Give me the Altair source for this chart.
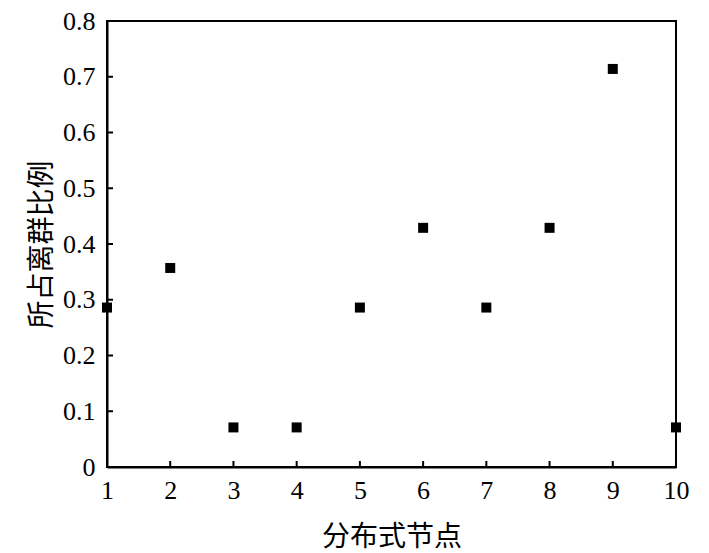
import altair as alt
import pandas as pd

nodes = [1, 2, 3, 4, 5, 6, 7, 8, 9, 10]
ratios = [0.286, 0.357, 0.071, 0.071, 0.286, 0.429, 0.286, 0.429, 0.714, 0.071]
x_ticks = [1, 2, 3, 4, 5, 6, 7, 8, 9, 10]
y_ticks = [0, 0.1, 0.2, 0.3, 0.4, 0.5, 0.6, 0.7, 0.8]
x_inner_ticks = [2, 3, 4, 5, 6, 7, 8, 9]
y_inner_ticks = [0.1, 0.2, 0.3, 0.4, 0.5, 0.6, 0.7]

W, H = 569, 446
FONT = "Liberation Serif, Times New Roman, Noto Sans CJK SC"

df = pd.DataFrame({"node": nodes, "ratio": ratios})
xt = pd.DataFrame({"v": x_inner_ticks})
yt = pd.DataFrame({"v": y_inner_ticks})

xscale = alt.Scale(domain=[1, 10], nice=False, zero=False)
yscale = alt.Scale(domain=[0, 0.8], nice=False)

points = alt.Chart(df).mark_square(size=100, color="black", opacity=1, clip=False).encode(
    x=alt.X("node:Q", scale=xscale,
            axis=alt.Axis(title="分布式节点", values=x_ticks, format="d", ticks=False,
                          labelPadding=10, titlePadding=20, grid=False)),
    y=alt.Y("ratio:Q", scale=yscale,
            axis=alt.Axis(title="所占离群比例", values=y_ticks, ticks=False,
                          labelExpr="datum.value == 0 ? '0' : format(datum.value, '.1f')",
                          labelPadding=12, titlePadding=6, grid=False)),
)

xtick_rules = alt.Chart(xt).mark_rule(color="black", strokeWidth=2).encode(
    x=alt.X("v:Q", scale=xscale),
    y=alt.value(H),
    y2=alt.value(H - 6),
)

ytick_rules = alt.Chart(yt).mark_rule(color="black", strokeWidth=2).encode(
    y=alt.Y("v:Q", scale=yscale),
    x=alt.value(0),
    x2=alt.value(6),
)

chart = alt.layer(points, xtick_rules, ytick_rules).properties(
    width=W, height=H,
    autosize=alt.AutoSizeParams(type="none"),
    padding={"left": 99, "top": 13, "right": 24, "bottom": 84},
).configure_view(
    stroke="black", strokeWidth=2
).configure_axis(
    domainColor="black", domainWidth=2,
    labelFont=FONT, titleFont=FONT,
    labelFontSize=26, titleFontSize=28,
    labelColor="black", titleColor="black",
    titleFontWeight="normal", labelFlush=False,
)

chart.save("out.html", embed_options={"renderer": "svg", "actions": False})
